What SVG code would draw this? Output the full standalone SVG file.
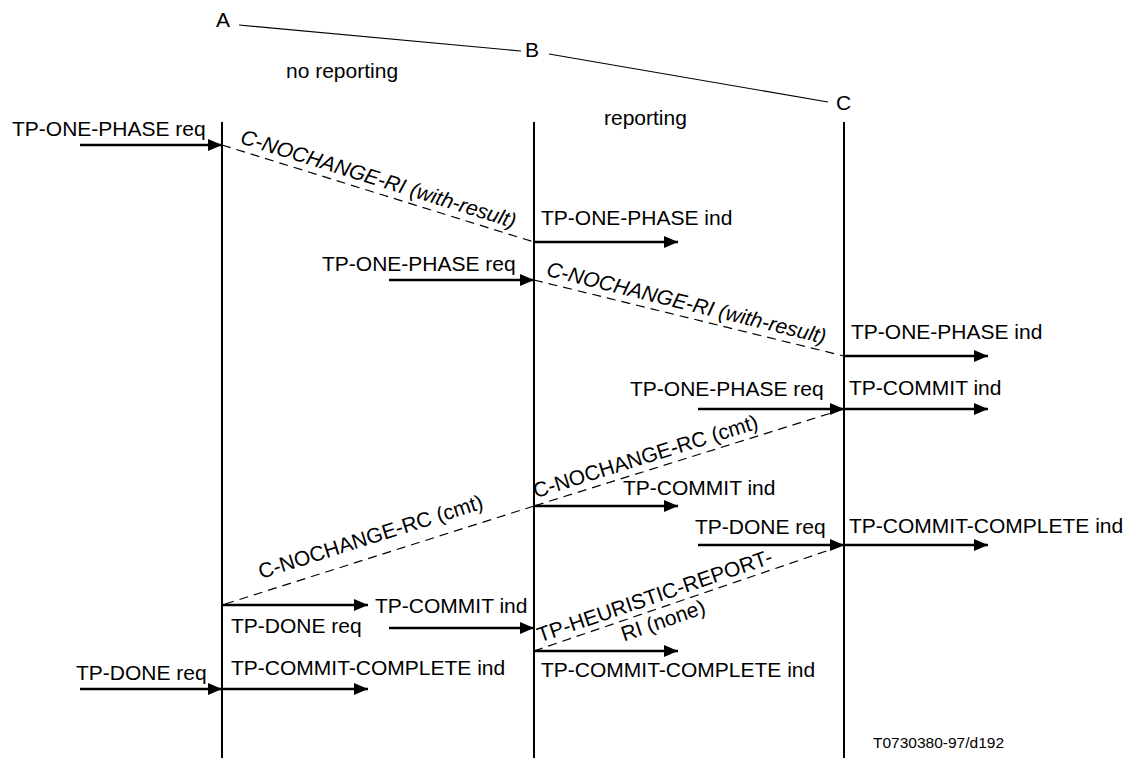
<svg xmlns="http://www.w3.org/2000/svg" width="1136" height="758" viewBox="0 0 1136 758">
<style>
text{font-family:"Liberation Sans",Arial,sans-serif;font-size:21px;fill:#000}
.it{font-style:italic}
.life{stroke:#000;stroke-width:2;fill:none}
.msg{stroke:#000;stroke-width:2.6;fill:none;marker-end:url(#ah)}
.dash{stroke:#000;stroke-width:1.2;fill:none;stroke-dasharray:9,6}
.thin{stroke:#000;stroke-width:1.2;fill:none}
.small{font-size:15.5px}
</style>
<defs>
<marker id="ah" markerUnits="userSpaceOnUse" markerWidth="14" markerHeight="12" refX="14" refY="6" orient="auto">
<path d="M0,0 L14,6 L0,12 z" fill="#000"/>
</marker>
</defs>
<rect width="1136" height="758" fill="#fff"/>
<g id="header">
<text x="216" y="27">A</text>
<text x="525" y="57">B</text>
<text x="836" y="110">C</text>
<line class="thin" x1="239" y1="25" x2="521" y2="51"/>
<line class="thin" x1="549" y1="54" x2="828" y2="102"/>
<text x="286" y="78">no reporting</text>
<text x="604" y="125">reporting</text>
</g>
<g id="nodeA"><line class="life" x1="222" y1="122" x2="222" y2="758"/></g>
<g id="nodeB"><line class="life" x1="534" y1="122" x2="534" y2="758"/></g>
<g id="nodeC"><line class="life" x1="844" y1="122" x2="844" y2="758"/></g>
<g id="connectors">
<line class="msg" x1="80" y1="145" x2="222" y2="145"/>
<text x="12" y="136">TP-ONE-PHASE req</text>
<line class="dash" x1="222" y1="145" x2="534" y2="242"/>
<text class="it" transform="translate(222,145) rotate(17.27)" x="16" y="-7">C-NOCHANGE-RI (with-result)</text>
<line class="msg" x1="534" y1="242" x2="678" y2="242"/>
<text x="541" y="225">TP-ONE-PHASE ind</text>
<line class="msg" x1="389" y1="280" x2="534" y2="280"/>
<text x="322" y="271">TP-ONE-PHASE req</text>
<line class="dash" x1="534" y1="280" x2="844" y2="356"/>
<text class="it" transform="translate(534,280) rotate(13.78)" x="10" y="-7">C-NOCHANGE-RI (with-result)</text>
<line class="msg" x1="844" y1="356" x2="988" y2="356"/>
<text x="851" y="339">TP-ONE-PHASE ind</text>
<line class="msg" x1="698" y1="409" x2="844" y2="409"/>
<text x="630" y="396">TP-ONE-PHASE req</text>
<line class="msg" x1="844" y1="409" x2="988" y2="409"/>
<text x="849" y="395">TP-COMMIT ind</text>
<line class="dash" x1="844" y1="409" x2="534" y2="506"/>
<text transform="translate(534,506) rotate(-17.37)" x="4" y="-7">C-NOCHANGE-RC (cmt)</text>
<line class="msg" x1="534" y1="506" x2="678" y2="506"/>
<text x="623" y="495">TP-COMMIT ind</text>
<line class="dash" x1="534" y1="506" x2="222" y2="605"/>
<text transform="translate(222,605) rotate(-17.6)" x="45" y="-13">C-NOCHANGE-RC (cmt)</text>
<line class="msg" x1="698" y1="545" x2="844" y2="545"/>
<text x="695" y="534">TP-DONE req</text>
<line class="msg" x1="844" y1="545" x2="988" y2="545"/>
<text x="849" y="533">TP-COMMIT-COMPLETE ind</text>
<line class="msg" x1="222" y1="605" x2="368" y2="605"/>
<text x="375" y="613">TP-COMMIT ind</text>
<line class="msg" x1="389" y1="628" x2="534" y2="628"/>
<text x="231" y="633">TP-DONE req</text>
<line class="dash" x1="534" y1="651" x2="844" y2="545"/>
<g transform="translate(534,651) rotate(-18.88)">
<text x="132" y="-6" text-anchor="middle">TP-HEURISTIC-REPORT-</text>
<text x="132" y="20" text-anchor="middle">RI (none)</text>
</g>
<line class="msg" x1="534" y1="651" x2="678" y2="651"/>
<text x="541" y="677">TP-COMMIT-COMPLETE ind</text>
<line class="msg" x1="80" y1="689" x2="222" y2="689"/>
<text x="76" y="680">TP-DONE req</text>
<line class="msg" x1="222" y1="689" x2="368" y2="689"/>
<text x="231" y="675">TP-COMMIT-COMPLETE ind</text>
</g>
<text class="small" x="873" y="748">T0730380-97/d192</text>
</svg>
